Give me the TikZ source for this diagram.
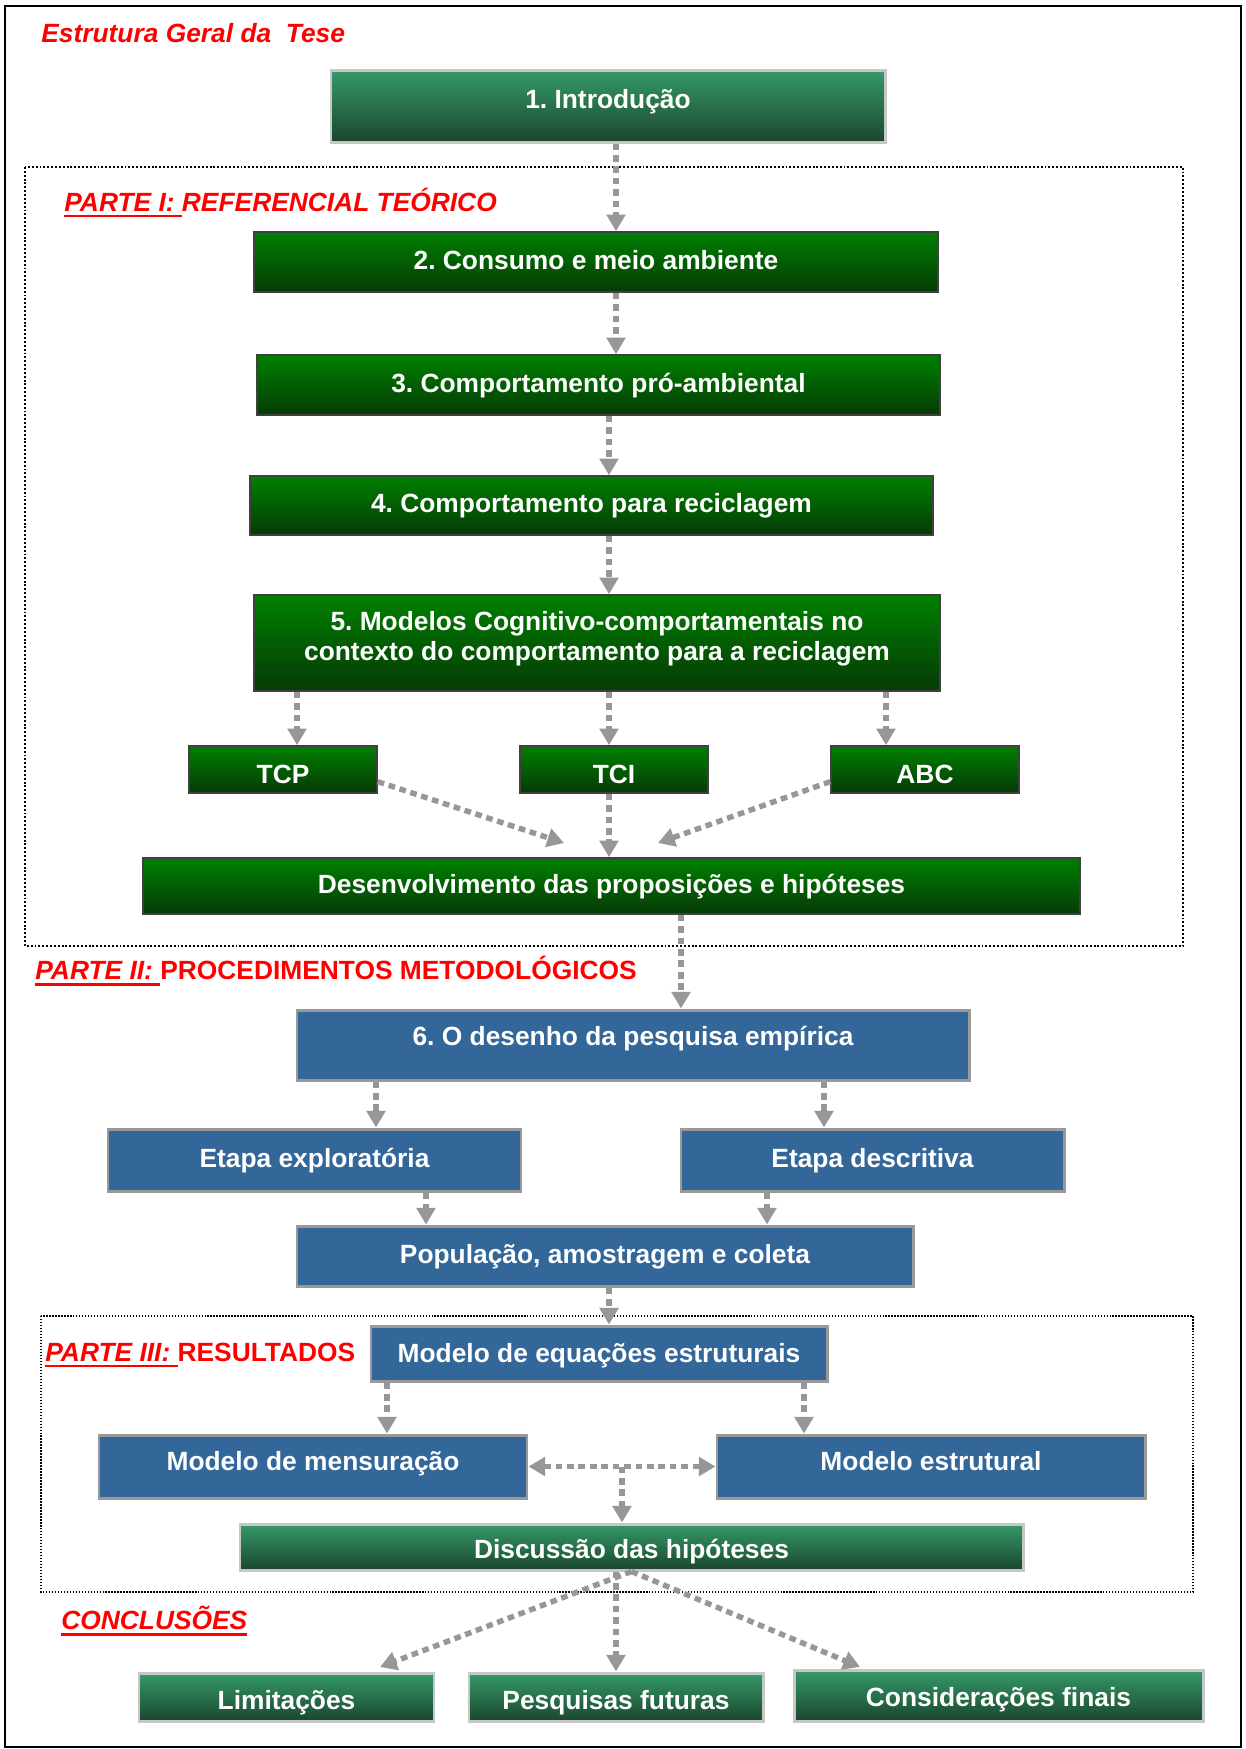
\documentclass[tikz,border=0pt]{standalone}
\usepackage{fontspec}
\setmainfont{Liberation Sans}
\usetikzlibrary{arrows.meta,calc}

\definecolor{grnA}{HTML}{008000}
\definecolor{grnB}{HTML}{063A06}
\definecolor{teaA}{HTML}{359A68}
\definecolor{teaB}{HTML}{1A462E}
\definecolor{blu}{HTML}{336699}
\definecolor{arrgray}{HTML}{979797}

% thick underline under a piece of heading text
\newcommand\ulbox[1]{\setbox0=\hbox{#1}\rlap{\rule[-3.2pt]{\wd0}{1.3pt}}\box0}
% box given by its corners: name, style, x1, y1, x2, y2, text
\newcommand\mkbox[7]{\node[#2, minimum width={(#5-#3)*0.02cm}, minimum height={(#6-#4)*0.02cm}] (#1) at ({(#3+#5)/2},{(#4+#6)/2}) {#7};}

\tikzset{
  box/.style={rectangle, inner sep=2pt, text=white, align=center,
    font=\bfseries\fontsize{15}{17.6}\selectfont},
  partI/.style={box, draw=black!75, line width=0.9pt, top color=grnA, bottom color=grnB},
  tealbox/.style={box, draw=black!22, line width=1.7pt, top color=teaA, bottom color=teaB},
  bluebox/.style={box, fill=blu, draw=black!40, line width=1.7pt},
  tv/.style 2 args={text height=#1, text depth=#2},
  lbl/.style={anchor=west, inner sep=0pt, text=red, font=\bfseries\fontsize{15}{18}\selectfont},
  arr/.style={draw=arrgray, line width=3.1pt, dash pattern=on 3.8pt off 2.7pt,
    -{Triangle[width=10.5pt,length=9.5pt]}},
  arrboth/.style={arr, {Triangle[width=10.5pt,length=9.5pt]}-{Triangle[width=10.5pt,length=9.5pt]}},
  frameI/.style={draw=black, line width=1.5pt, dash pattern=on 1.1pt off 1.1pt},
  frameIII/.style={draw=black, line width=0.7pt, dash pattern=on 0.8pt off 0.9pt},
}

\begin{document}
\frenchspacing
\begin{tikzpicture}[x=0.02cm, y=-0.02cm]
\useasboundingbox (0,0) rectangle (1245,1749);

% outer frame and part frames
\draw[line width=1.5pt] (5,6) rectangle (1241,1747);
\draw[frameI] (25,167) rectangle (1183,946);
\draw[frameIII] (41,1316) rectangle (1193,1592);

% headings
\node[lbl] (title) at (41,33) {\itshape Estrutura Geral da\ \ Tese};
\node[lbl] (p1) at (64,203) {\itshape\ulbox{PARTE I: }REFERENCIAL TEÓRICO};
\node[lbl] (p2) at (35,971) {\ulbox{\itshape PARTE II: }PROCEDIMENTOS METODOLÓGICOS};
\node[lbl] (p3) at (45,1355) {\ulbox{\itshape PARTE III: }RESULTADOS};
\node[lbl] (p4) at (61,1621) {\itshape\ulbox{CONCLUSÕES}};

% boxes
\mkbox{intro}{tealbox,tv={11pt}{8pt}}{331}{70}{885}{142}{1. Introdução}
\mkbox{b2}{partI,tv={11pt}{3pt}}{254}{232}{938}{292}{2. Consumo e meio ambiente}
\mkbox{b3}{partI,tv={11pt}{3pt}}{257}{355}{940}{415}{3. Comportamento pró-ambiental}
\mkbox{b4}{partI,tv={11pt}{3pt}}{250}{476}{933}{535}{4. Comportamento para reciclagem}
\mkbox{b5}{partI,text depth=8pt}{254}{595}{940}{691}{5. Modelos Cognitivo-comportamentais no\\contexto do comportamento para a reciclagem}
\mkbox{tcp}{partI,tv={15.7pt}{0pt}}{189}{746}{377}{793}{TCP}
\mkbox{tci}{partI,tv={15.7pt}{0pt}}{520}{746}{708}{793}{TCI}
\mkbox{abc}{partI,tv={15.7pt}{0pt}}{831}{746}{1019}{793}{ABC}
\mkbox{des}{partI,tv={12pt}{3pt}}{143}{858}{1080}{914}{Desenvolvimento das proposições e hipóteses}

\mkbox{b6}{bluebox,tv={11pt}{10pt}}{297}{1010}{969}{1080}{6. O desenho da pesquisa empírica}
\mkbox{ex}{bluebox,tv={11pt}{3pt}}{108}{1129}{521}{1191}{Etapa exploratória}
\mkbox{de}{bluebox,tv={11pt}{3pt}}{681}{1129}{1064}{1191}{Etapa descritiva}
\mkbox{pop}{bluebox,tv={11pt}{3pt}}{297}{1226}{913}{1286}{População, amostragem e coleta}

\mkbox{meq}{bluebox,tv={13.6pt}{3pt}}{371}{1326}{827}{1381}{Modelo de equações estruturais}
\mkbox{mm}{bluebox,tv={11pt}{6.8pt}}{99}{1435}{527}{1498}{Modelo de mensuração}
\mkbox{me}{bluebox,tv={11pt}{6.8pt}}{717}{1435}{1145}{1498}{Modelo estrutural}
\mkbox{disc}{tealbox,tv={16pt}{3pt}}{240}{1524}{1023}{1570}{Discussão das hipóteses}

\mkbox{lim}{tealbox,tv={17.4pt}{3pt}}{139}{1673}{434}{1721}{Limitações}
\mkbox{pf}{tealbox,tv={17.4pt}{3pt}}{469}{1673}{763}{1721}{Pesquisas futuras}
\mkbox{cf}{tealbox,tv={16pt}{3pt}}{794}{1670}{1203}{1721}{Considerações finais}

% arrow columns and free arrow ends
\coordinate (c616) at (616,0);
\coordinate (c609) at (609,0);
\coordinate (c297) at (297,0);
\coordinate (c886) at (886,0);
\coordinate (c681) at (681,0);
\coordinate (c376) at (376,0);
\coordinate (c824) at (824,0);
\coordinate (c426) at (426,0);
\coordinate (c767) at (767,0);
\coordinate (c387) at (387,0);
\coordinate (c804) at (804,0);
\coordinate (tipL) at (564,843);
\coordinate (tipR) at (658,843);
\coordinate (limtip) at (380,1667);
\coordinate (cftip) at (860,1667);

% connectors
\draw[arr] (intro.south -| c616) -- (b2.north -| c616);
\draw[arr] (b2.south -| c616) -- (b3.north -| c616);
\draw[arr] (b3.south -| c609) -- (b4.north -| c609);
\draw[arr] (b4.south -| c609) -- (b5.north -| c609);
\draw[arr] (b5.south -| c297) -- (tcp.north -| c297);
\draw[arr] (b5.south -| c609) -- (tci.north -| c609);
\draw[arr] (b5.south -| c886) -- (abc.north -| c886);
\draw[arr] ($(tcp.east)!0.5!(tcp.south east)$) -- (tipL);
\draw[arr] (tci.south -| c609) -- (des.north -| c609);
\draw[arr] ($(abc.west)!0.5!(abc.south west)$) -- (tipR);
\draw[arr] (des.south -| c681) -- (b6.north -| c681);
\draw[arr] (b6.south -| c376) -- (ex.north -| c376);
\draw[arr] (b6.south -| c824) -- (de.north -| c824);
\draw[arr] (ex.south -| c426) -- (pop.north -| c426);
\draw[arr] (de.south -| c767) -- (pop.north -| c767);
\draw[arr] (pop.south -| c609) -- (meq.north -| c609);
\draw[arr] (meq.south -| c387) -- (mm.north -| c387);
\draw[arr] (meq.south -| c804) -- (me.north -| c804);
\draw[arrboth] (mm.east) -- (me.west);
\coordinate (mid) at ($(mm.east)!0.5!(me.west)$);
\draw[arr] (mid) -- (disc.north -| mid);
\draw[arr] (disc.south) -- (limtip);
\draw[arr] (disc.south -| pf.north) -- (pf.north);
\draw[arr] (disc.south) -- (cftip);
\end{tikzpicture}
\end{document}
